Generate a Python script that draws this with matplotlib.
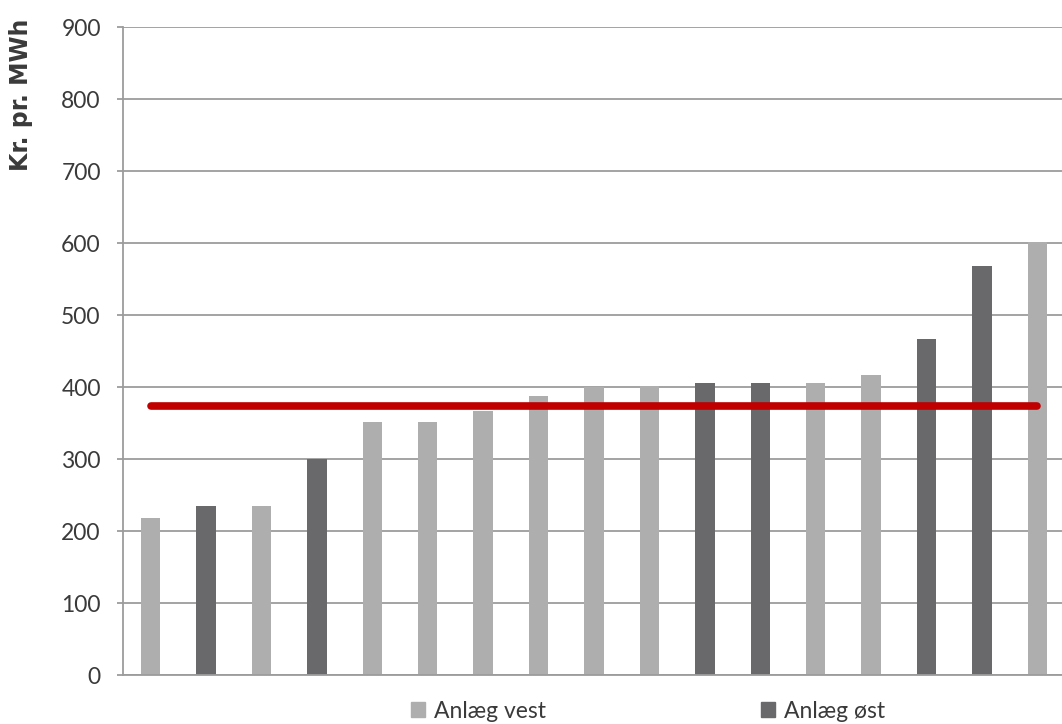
import matplotlib.pyplot as plt
from matplotlib.patches import Patch

plt.rcParams["font.family"] = ["Lato", "DejaVu Sans"]

# plant prices, sorted ascending, and which region each plant belongs to
regions = ["vest", "øst", "vest", "øst", "vest", "vest", "vest", "vest", "vest",
           "vest", "øst", "øst", "vest", "vest", "øst", "øst", "vest"]
prices = [218, 235, 235, 300, 352, 352, 367, 388, 400,
          401, 405, 405, 405, 416, 466, 568, 601]
average_price = 373
y_ticks = [0, 100, 200, 300, 400, 500, 600, 700, 800, 900]

COLORS = {"vest": "#AFAEAF", "øst": "#69696B"}
GRID = "#9C9C9C"

fig = plt.figure(figsize=(10.62, 7.24), dpi=100)
ax = fig.add_axes([123 / 1062, 49 / 724, 942 / 1062, 648 / 724])

x = list(range(len(prices)))
ax.bar(x, prices, width=0.35, color=[COLORS[r] for r in regions], zorder=2)

# average line across all plants
ax.plot(x, [average_price] * len(x), color="#C00000", lw=5.5,
        solid_capstyle="round", zorder=3)

ax.set_xlim(-0.5, len(prices) - 0.5)
ax.set_ylim(0, 900)
ax.set_yticks(y_ticks)
ax.set_xticks([])
ax.yaxis.grid(True, color=GRID, lw=1.3)
ax.set_axisbelow(True)

for side in ["top", "right"]:
    ax.spines[side].set_visible(False)
for side in ["left", "bottom"]:
    ax.spines[side].set_color(GRID)
    ax.spines[side].set_linewidth(1.3)

ax.tick_params(axis="y", length=4, width=1.3, color=GRID, pad=12,
               labelsize=16.5, labelcolor="#3A3A3A")

fig.text(21 / 1062, 1 - 95 / 724, "Kr. pr. MWh", rotation=90, ha="center",
         va="center", fontsize=17, fontweight="bold", color="#3A3A3A",
         family="DejaVu Sans")

handles = [Patch(color=COLORS["vest"], label="Anlæg vest"),
           Patch(color=COLORS["øst"], label="Anlæg øst")]
fig.legend(handles=handles, ncol=2, loc="center",
           bbox_to_anchor=(648 / 1062, 1 - 711 / 724), frameon=False,
           fontsize=16.5, handlelength=0.6, handleheight=0.6,
           handletextpad=0.4, columnspacing=9.4, labelcolor="#3A3A3A")

plt.savefig("out.png", dpi=100)
plt.close()
